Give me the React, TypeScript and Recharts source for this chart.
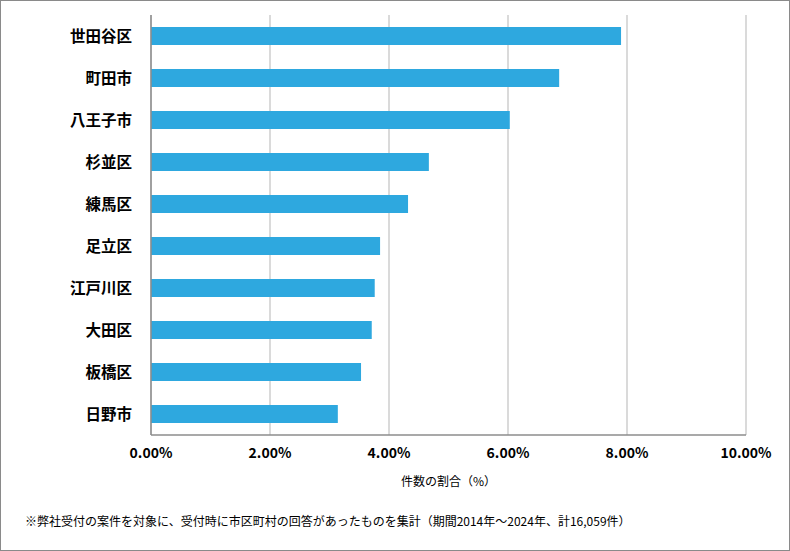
import React from 'react';
import { BarChart, Bar, XAxis, YAxis, CartesianGrid } from 'recharts';

const categories = ['世田谷区', '町田市', '八王子市', '杉並区', '練馬区', '足立区', '江戸川区', '大田区', '板橋区', '日野市'];
const shares = [7.9, 6.86, 6.03, 4.67, 4.32, 3.85, 3.76, 3.71, 3.53, 3.14];
const xTicks = [0, 2, 4, 6, 8, 10];
const axisTitle = '件数の割合（%）';
const footnote = '※弊社受付の案件を対象に、受付時に市区町村の回答があったものを集計（期間2014年～2024年、計16,059件）';

const data = categories.map((name, i) => ({ name, value: shares[i] }));

const FONT = '"Noto Sans CJK JP", "Noto Sans", sans-serif';

export default function App() {
  return (
    <div
      style={{
        position: 'absolute',
        left: 0,
        top: 0,
        width: 790,
        height: 551,
        boxSizing: 'border-box',
        border: '1px solid #8a8a8a',
        background: '#fff',
        fontFamily: FONT,
      }}
    >
      <div style={{ position: 'absolute', left: -1, top: -1 }}>
        <BarChart
          width={790}
          height={551}
          data={data}
          layout="vertical"
          margin={{ top: 15, right: 44, bottom: 86, left: 0 }}
          barSize={18}
        >
          <CartesianGrid horizontal={false} vertical={true} stroke="#b5b5b5" strokeWidth={1} />
          <XAxis
            type="number"
            domain={[0, 10]}
            ticks={xTicks}
            tickFormatter={(v: number) => v.toFixed(2) + '%'}
            axisLine={{ stroke: '#8c8c8c', strokeWidth: 1.5 }}
            tickLine={false}
            tickSize={0}
            tickMargin={13}
            height={30}
            tick={{ fontSize: 14, fontWeight: 700, fill: '#000', fontFamily: FONT }}
            label={{ value: axisTitle, position: 'insideBottom', offset: -21, fontSize: 12, fill: '#000', fontFamily: FONT }}
            interval={0}
          />
          <YAxis
            type="category"
            dataKey="name"
            width={151}
            axisLine={{ stroke: '#8c8c8c', strokeWidth: 1.5 }}
            tickLine={false}
            tickSize={0}
            tickMargin={19}
            tick={{ fontSize: 15.5, fontWeight: 700, fill: '#000', fontFamily: FONT }}
            interval={0}
          />
          <Bar dataKey="value" fill="#2ea8df" isAnimationActive={false} />
        </BarChart>
      </div>
      <div
        style={{
          position: 'absolute',
          left: 24,
          top: 512,
          fontSize: 12,
          color: '#000',
          whiteSpace: 'nowrap',
          lineHeight: '16px',
          fontFamily: FONT,
        }}
      >
        {footnote}
      </div>
    </div>
  );
}
